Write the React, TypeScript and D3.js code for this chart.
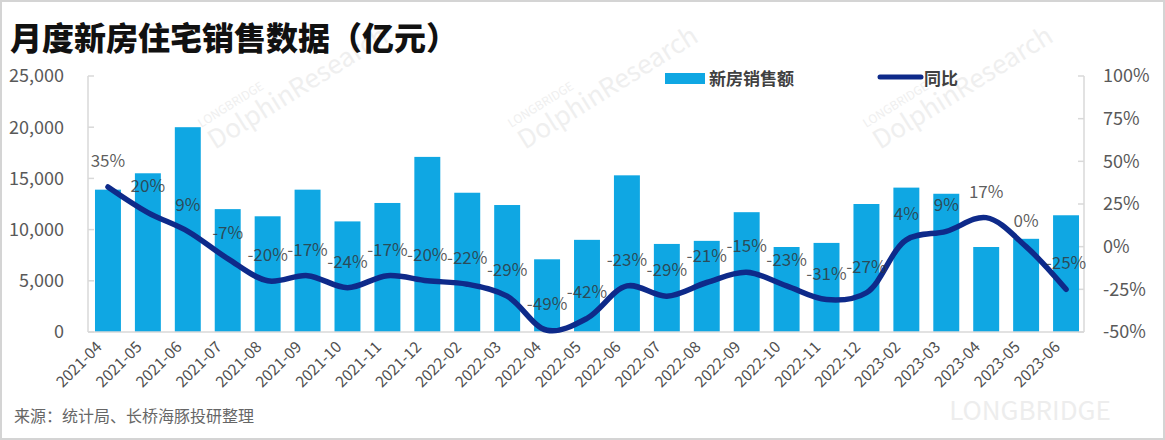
import React from "react";
import * as d3 from "d3";

const categories = [
  "2021-04","2021-05","2021-06","2021-07","2021-08","2021-09","2021-10","2021-11","2021-12",
  "2022-02","2022-03","2022-04","2022-05","2022-06","2022-07","2022-08","2022-09","2022-10","2022-11","2022-12",
  "2023-02","2023-03","2023-04","2023-05","2023-06",
];
const salesValues = [
  13900, 15500, 20000, 12000, 11300, 13900, 10800, 12600, 17100,
  13600, 12400, 7100, 9000, 15300, 8600, 8900, 11700, 8300, 8700, 12500,
  14100, 13500, 8300, 9100, 11400,
];
const yoyValues = [
  35, 20, 9, -7, -20, -17, -24, -17, -20,
  -22, -29, -49, -42, -23, -29, -21, -15, -23, -31, -27,
  4, 9, 17, 0, -25,
];
const leftTicks = [0, 5000, 10000, 15000, 20000, 25000];
const rightTicks = [-50, -25, 0, 25, 50, 75, 100];

const W = 1165;
const H = 440;
const FONT = "'Noto Sans CJK SC', 'Open Sans', sans-serif";
const BAR = "#0fa7e3";
const LINE = "#0e2a8a";

export default function App() {
  const x = d3.scaleBand<string>().domain(categories).range([88, 1086]).paddingInner(0.35).paddingOuter(0.175);
  const top = 76, bottom = 332;
  const yL = d3.scaleLinear().domain([0, 25000]).range([bottom, top]);
  const yR = d3.scaleLinear().domain([-50, 100]).range([bottom, top]);
  const cx = (c: string) => (x(c) as number) + x.bandwidth() / 2;
  const fmt = d3.format(",");
  const line = d3
    .line<number>()
    .x((_, i) => cx(categories[i]))
    .y((d) => yR(d))
    .curve(d3.curveCatmullRom.alpha(0.5));
  const axisL = 88, axisR = 1084;

  return (
    <svg width={W} height={H} style={{ position: "absolute", left: 0, top: 0, background: "#fff" }} fontFamily={FONT}>
      <rect x={1} y={1} width={W - 2} height={H - 2} fill="#fff" stroke="#d4d4d4" strokeWidth={2} />
      {/* watermarks */}
      {[[215, 150], [525, 150], [880, 150]].map(([wx, wy], i) => (
        <g key={i} transform={`translate(${wx},${wy}) rotate(-32)`} fill="#efefef">
          <text x={0} y={-26} fontSize={12}>LONGBRIDGE</text>
          <text x={0} y={0} fontSize={26}>DolphinResearch</text>
        </g>
      ))}
      <text x={1030} y={420} fontSize={26} fill="#ededed" textAnchor="middle">LONGBRIDGE</text>

      {/* title */}
      <text x={10} y={50} fontSize={32} fontWeight={900} fill="#111">月度新房住宅销售数据（亿元）</text>

      {/* axes lines */}
      <line x1={axisL} x2={axisL} y1={top} y2={bottom} stroke="#d9d9d9" strokeWidth={1.5} />
      <line x1={axisR} x2={axisR} y1={top} y2={bottom} stroke="#d9d9d9" strokeWidth={1.5} />
      {leftTicks.map((t) => (
        <g key={t}>
          <line x1={axisL} x2={axisL + 6} y1={yL(t)} y2={yL(t)} stroke="#d9d9d9" strokeWidth={1.5} />
          <text x={64} y={yL(t)} dy="0.35em" textAnchor="end" fontSize={18} fill="#595959">{fmt(t)}</text>
        </g>
      ))}
      {rightTicks.map((t) => (
        <g key={t}>
          <line x1={axisR - 6} x2={axisR} y1={yR(t)} y2={yR(t)} stroke="#d9d9d9" strokeWidth={1.5} />
          <text x={1103} y={yR(t)} dy="0.35em" textAnchor="start" fontSize={18} fill="#595959">{t}%</text>
        </g>
      ))}

      {/* bars */}
      {salesValues.map((v, i) => (
        <rect key={i} x={x(categories[i])} y={yL(v)} width={x.bandwidth()} height={yL(0) - yL(v)} fill={BAR} />
      ))}
      <line x1={axisL} x2={axisR} y1={bottom} y2={bottom} stroke="#d9d9d9" strokeWidth={1.5} />

      {/* line */}
      <path d={line(yoyValues) || ""} fill="none" stroke={LINE} strokeWidth={5.5} strokeLinecap="round" strokeLinejoin="round" />

      {/* data labels */}
      {yoyValues.map((v, i) => (
        <text key={i} x={cx(categories[i])} y={yR(v) - 26} dy="0.35em" textAnchor="middle" fontSize={17} fill="#333" fillOpacity={0.8}>
          {v}%
        </text>
      ))}

      {/* x labels */}
      {categories.map((c) => (
        <text key={c} transform={`translate(${cx(c) - 5},${bottom + 16}) rotate(-45)`} textAnchor="end" fontSize={15.5} fill="#505050">
          {c}
        </text>
      ))}

      {/* legend */}
      <rect x={665} y={73} width={40} height={11} fill={BAR} />
      <text x={709} y={79} dy="0.35em" fontSize={17} fontWeight={700} fill="#404040">新房销售额</text>
      <line x1={880} x2={921} y1={77} y2={77} stroke={LINE} strokeWidth={5} strokeLinecap="round" />
      <text x={924} y={79} dy="0.35em" fontSize={17} fontWeight={700} fill="#404040">同比</text>

      {/* source */}
      <text x={14} y={422} fontSize={16} fill="#666">来源：统计局、长桥海豚投研整理</text>
    </svg>
  );
}
